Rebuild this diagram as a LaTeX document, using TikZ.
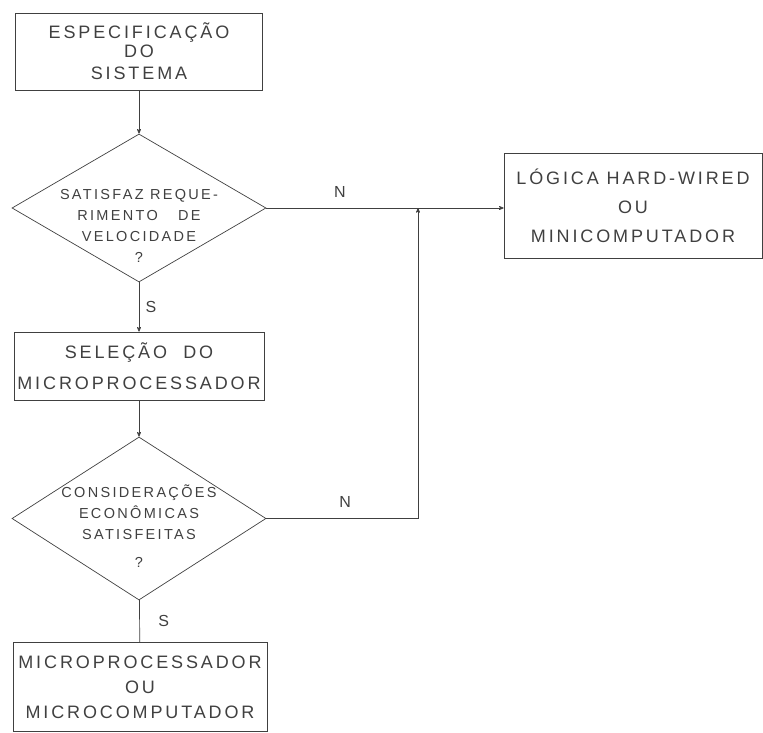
\documentclass[tikz,border=0pt]{standalone}
\usepackage{fontspec}
\usepackage{xcolor}
\usepackage{tikz}
\usetikzlibrary{arrows,shapes.geometric}
\newfontfamily\letterfont[LetterSpace=16]{Liberation Sans}
\definecolor{ink}{gray}{0.25}

\begin{document}
\begin{tikzpicture}[x=1pt,y=-1pt,>=stealth',line width=0.7pt,color=ink]
        \tikzstyle{block}=[draw=ink,rectangle,align=center,inner sep=0pt,
            font=\letterfont\fontsize{18}{22}\selectfont]
        \tikzstyle{decision}=[draw=ink,diamond,inner sep=0pt]
        \tikzstyle{dtext}=[align=center,font=\letterfont\fontsize{14.5}{21}\selectfont]
        \tikzstyle{tag}=[font=\letterfont\fontsize{16}{16}\selectfont]

        \useasboundingbox (0,0) rectangle (763,733);

        \node[block,minimum width=247pt,minimum height=77pt] (spec) at (139,51.5)
            {ESPECIFICAÇÃO\\[-3pt]DO\\SISTEMA};
        \node[decision,minimum width=254pt,minimum height=148pt] (vel) at (139,208) {};
        \node[dtext] (veltxt) at ([yshift=-18pt]vel.center)
            {SATISFAZ REQUE-\\RIMENTO\hspace{1.4em}DE\\VELOCIDADE\\?};
        \node[block,minimum width=250pt,minimum height=68pt] (sel) at (139,366)
            {SELEÇÃO\hspace{0.9em}DO\\[9pt]MICROPROCESSADOR};
        \node[decision,minimum width=254pt,minimum height=163pt] (eco) at (139,518.5) {};
        \node[dtext] (ecotxt) at ([yshift=-8pt]eco.center)
            {CONSIDERAÇÕES\\ECONÔMICAS\\SATISFEITAS\\[7pt]?};
        \node[block,minimum width=254pt,minimum height=89pt] (micro) at (140,687)
            {MICROPROCESSADOR\\[3pt]OU\\[3pt]MICROCOMPUTADOR};
        \node[block,minimum width=258pt,minimum height=105pt] (mini) at (633,205.5)
            {LÓGICA HARD-WIRED\\[7pt]OU\\[7pt]MINICOMPUTADOR};
        \coordinate (join) at (418,208);

        \path[->] (spec) edge (vel)
            (vel) edge node[tag,right=3pt] {S} (sel)
            (sel) edge (eco);
        \draw (eco) -- node[tag,right=15pt] {S} (micro);
        \draw[->] (vel.east) -- node[tag,above=7pt,pos=0.31] {N} (vel.east -| mini.west);
        \draw[->] (eco.east) -| node[tag,above=7pt,pos=0.26] {N} (join);
    \end{tikzpicture}
\end{document}
